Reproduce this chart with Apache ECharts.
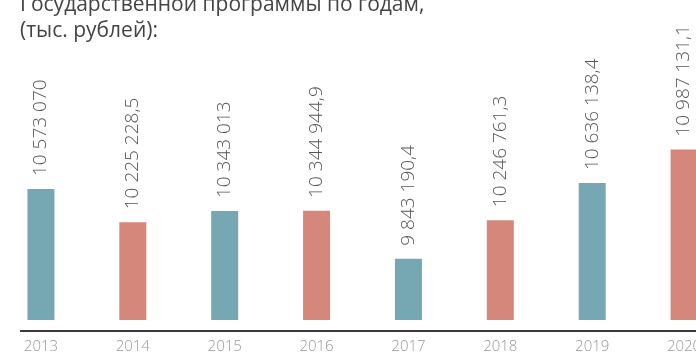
<!DOCTYPE html>
<html>
<head>
<meta charset="utf-8">
<script src="https://cdn.jsdelivr.net/npm/echarts@6/dist/echarts.min.js"></script>
<style>
html,body{margin:0;padding:0;background:#fff;overflow:hidden;width:696px;height:354px;}
#c{width:735px;height:354px;position:absolute;left:-5px;top:0;}
</style>
</head>
<body>
<div id="c"></div>
<script>
const years = ['2013','2014','2015','2016','2017','2018','2019','2020'];
const values = [10573070, 10225228.5, 10343013, 10344944.9, 9843190.4, 10246761.3, 10636138.4, 10987131.1];
const valueLabels = ['10 573 070','10 225 228,5','10 343 013','10 344 944,9','9 843 190,4','10 246 761,3','10 636 138,4','10 987 131,1'];
const titleLines = ['Государственной программы по годам,', '(тыс. рублей):'];
const colors = ['#75a8b2', '#d5877b'];

const chart = echarts.init(document.getElementById('c'), null, {renderer: 'canvas'});
chart.setOption({
  animation: false,
  backgroundColor: '#fff',
  grid: {left: 0, right: 0, top: 22, bottom: 31, containLabel: false},
  xAxis: {
    type: 'category',
    data: years,
    offset: 8,
    axisLine: {show: false},
    axisTick: {show: false},
    axisLabel: {color: '#999', fontSize: 15, fontWeight: 300, margin: 11, fontFamily: 'Open Sans'}
  },
  yAxis: {
    type: 'value',
    min: 9200000,
    max: 12325000,
    show: false,
    splitLine: {show: false}
  },
  series: [{
    type: 'bar',
    barWidth: 27,
    data: values.map((v, i) => ({value: v, itemStyle: {color: colors[i % 2]}})),
    label: {
      show: true,
      position: 'top',
      rotate: 90,
      align: 'left',
      verticalAlign: 'middle',
      distance: 13,
      color: '#555',
      fontSize: 19,
      fontWeight: 300,
      fontFamily: 'Open Sans',
      formatter: p => valueLabels[p.dataIndex]
    }
  }],
  graphic: [
    {type: 'line', shape: {x1: 25, y1: 331, x2: 735, y2: 331}, style: {stroke: '#3a3a3a', lineWidth: 2}, silent: true},
    {type: 'text', left: 25, top: -8, style: {text: titleLines.join('\n'), fill: '#444', font: '400 21px "Open Sans"', lineHeight: 26}}
  ]
});
</script>
</body>
</html>
